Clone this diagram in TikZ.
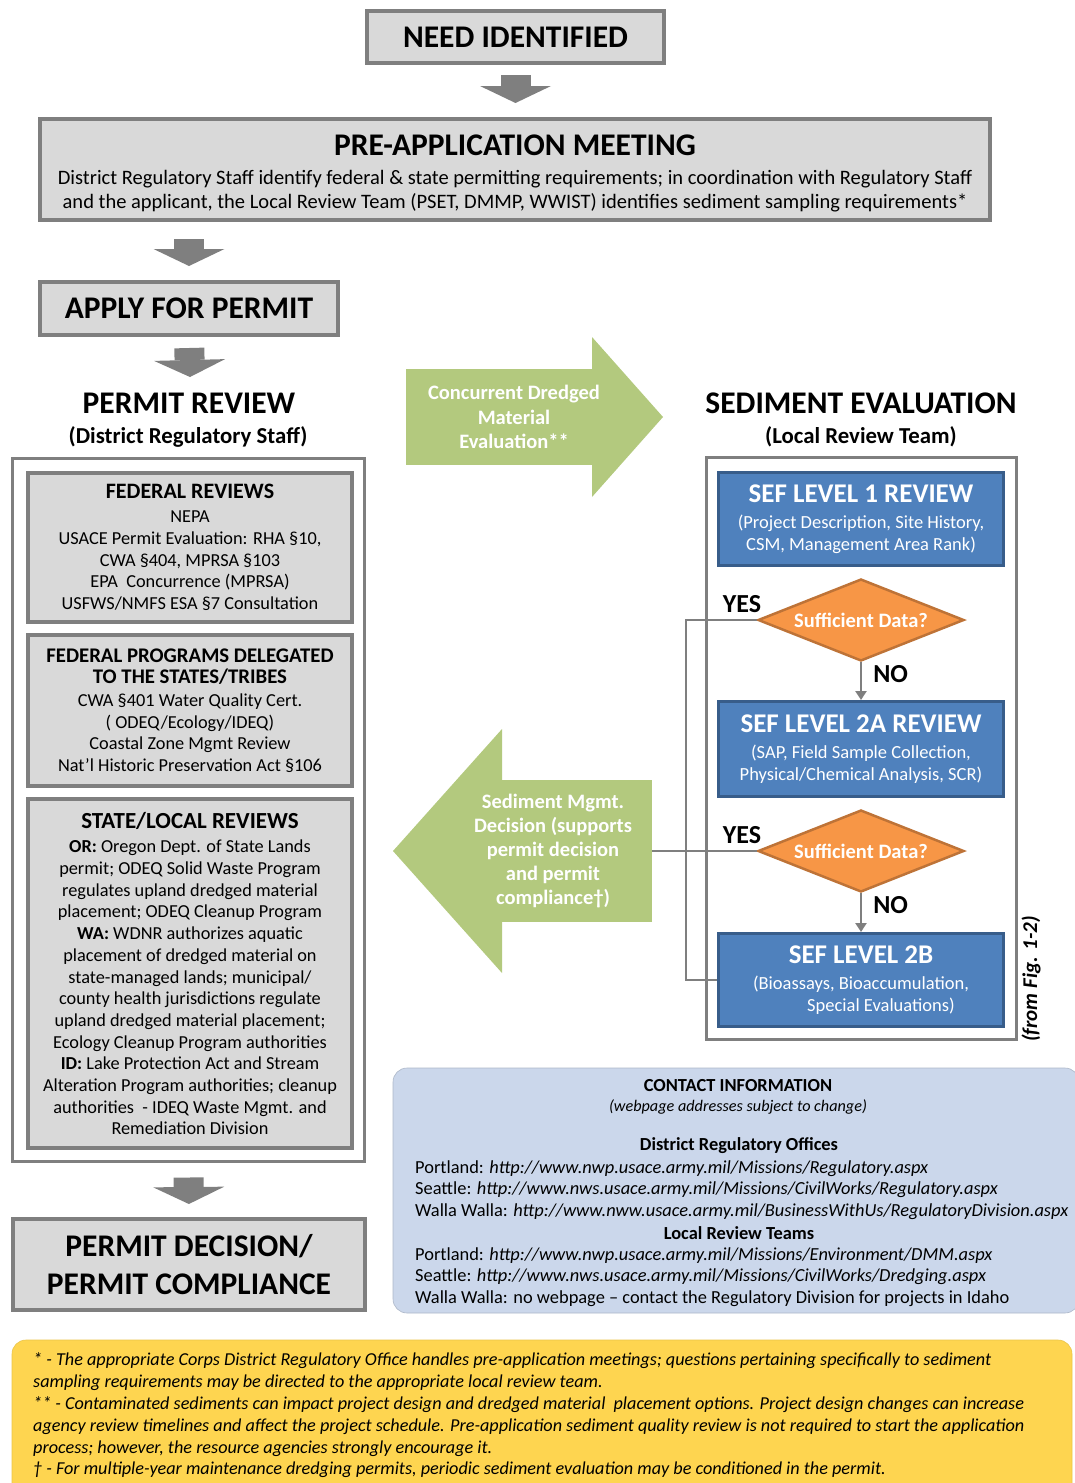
\documentclass[tikz,border=0pt]{standalone}
\usepackage{fontspec}
\setmainfont{Carlito}
\usetikzlibrary{arrows.meta,shapes.geometric,positioning}

\definecolor{boxgray}{RGB}{127,127,127}
\definecolor{boxfill}{RGB}{217,217,217}
\definecolor{sefblue}{RGB}{79,129,189}
\definecolor{sefedge}{RGB}{56,93,138}
\definecolor{decfill}{RGB}{247,150,70}
\definecolor{decedge}{RGB}{190,115,55}
\definecolor{evalgreen}{RGB}{179,201,126}
\definecolor{contactblue}{RGB}{203,215,235}
\definecolor{noteyellow}{RGB}{254,213,80}

\newcommand\fontBig{\fontsize{31.5}{38}\selectfont\bfseries}
\newcommand\fontSub{\fontsize{22.8}{24}\selectfont\bfseries}
\newcommand\fontProg{\fontsize{20.8}{24}\selectfont\bfseries}
\newcommand\fontBody{\fontsize{18.3}{21.7}\selectfont}
\newcommand\fontPre{\fontsize{20.5}{24}\selectfont}
\newcommand\fontSef{\fontsize{27}{30}\selectfont\bfseries}
\newcommand\fontSefSub{\fontsize{18.5}{22}\selectfont}
\newcommand\fontQuery{\fontsize{20.5}{22}\selectfont\bfseries}
\newcommand\fontYesNo{\fontsize{26}{28}\selectfont\bfseries}
\newcommand\fontGreen{\fontsize{20.5}{24.2}\selectfont\bfseries}
\newcommand\fontContact{\fontsize{18.4}{21.7}\selectfont}
\newcommand\fontNote{\fontsize{18.2}{21.8}\selectfont\itshape}

\begin{document}
\begin{tikzpicture}
         [x=1pt,y=-1pt,
          graybox/.style={draw=boxgray,fill=boxfill,line width=4pt,inner sep=0pt,align=center},
          frame/.style={draw=boxgray,line width=3pt,inner sep=0pt},
          sefbox/.style={draw=sefedge,fill=sefblue,line width=3pt,text=white,inner sep=0pt,
                         minimum width=285pt,align=center,font=\fontSefSub},
          query/.style={diamond,aspect=2.5,draw=decedge,fill=decfill,line width=2.5pt,text=white,
                        inner sep=0pt,minimum width=206pt,minimum height=82pt,font=\fontQuery},
          blockarrow/.style={draw=boxgray,line width=30pt,-{Triangle[width=71pt,length=17pt,line width=0pt]}},
          flow/.style={draw=boxgray,line width=2.5pt,-{Triangle[width=11pt,length=9pt]}},
          link/.style={draw=boxgray,line width=2.5pt},
          yesno/.style={font=\fontYesNo,inner sep=0pt},
          heading/.style={font=\fontBig,inner sep=0pt,align=center},
          greentext/.style={font=\fontGreen,text=white,inner sep=0pt,align=center}]
         \useasboundingbox (0,0) rectangle (1075,1483);

         \node[graybox,minimum width=297pt,minimum height=52pt,font=\fontBig] (need) at (515.5,37) {NEED IDENTIFIED};
         \node[graybox,minimum width=950pt,minimum height=101pt,font=\fontPre] (preapp) at (515,169.5)
              {{\fontBig\rule{0pt}{28pt}PRE-APPLICATION MEETING}\\[5pt]
               District Regulatory Staff identify federal \& state permitting requirements; in coordination with Regulatory Staff\\
               and the applicant, the Local Review Team (PSET, DMMP, WWIST) identifies sediment sampling requirements*};
         \node[graybox,minimum width=298pt,minimum height=53pt,font=\fontBig] (apply) at (189,308.5) {APPLY FOR PERMIT};

         \node[heading] (prtitle) at (189,403) {PERMIT REVIEW};
         \node[font=\fontSub,inner sep=0pt] (prsub) at (188,437) {(District Regulatory Staff)};
         \coordinate (prtop) at (190,377);

         \node[frame,minimum width=352pt,minimum height=703pt] (review) at (188.5,810) {};
         \node[graybox,minimum width=324pt,minimum height=149pt,font=\fontBody] (fedrev) at (190,547.5)
              {{\fontsize{22}{24}\selectfont\bfseries FEDERAL REVIEWS}\\[2pt]
               NEPA\\
               USACE Permit Evaluation: RHA §10,\\
               CWA §404, MPRSA §103\\
               EPA\ \ Concurrence (MPRSA)\\
               USFWS/NMFS ESA §7 Consultation};
         \node[graybox,minimum width=324pt,minimum height=151pt,font=\fontBody] (fedprog) at (190,710.5)
              {{\fontProg FEDERAL PROGRAMS DELEGATED}\\
               {\fontProg TO THE STATES/TRIBES}\\[1pt]
               CWA §401 Water Quality Cert.\\
               ( ODEQ/Ecology/IDEQ)\\
               Coastal Zone Mgmt Review\\
               Nat’l Historic Preservation Act §106};
         \node[graybox,minimum width=324pt,minimum height=349pt,font=\fontBody] (statelocal) at (190,973.5)
              {{\fontsize{23}{24}\selectfont\bfseries STATE/LOCAL REVIEWS}\\[3pt]
               \textbf{OR:} Oregon Dept. of State Lands\\
               permit; ODEQ Solid Waste Program\\
               regulates upland dredged material\\
               placement; ODEQ Cleanup Program\\
               \textbf{WA:} WDNR authorizes aquatic\\
               placement of dredged material on\\
               state-managed lands; municipal/\\
               county health jurisdictions regulate\\
               upland dredged material placement;\\
               Ecology Cleanup Program authorities\\
               \textbf{ID:} Lake Protection Act and Stream\\
               Alteration Program authorities; cleanup\\
               authorities\ \ - IDEQ Waste Mgmt. and\\
               Remediation Division};
         \node[graybox,minimum width=352pt,minimum height=91pt,font=\fontBig] (decision) at (189,1264.5)
              {PERMIT DECISION/\\PERMIT COMPLIANCE};

         \draw[blockarrow,shorten <=10pt,shorten >=14pt] (need.south) -- (need.south |- preapp.north);
         \draw[blockarrow,shorten <=17pt,shorten >=14pt] (apply.north |- preapp.south) -- (apply.north);
         \draw[blockarrow,shorten <=11pt] (apply.south) -- (prtop);
         \draw[blockarrow,shorten <=14.5pt,shorten >=13pt] (review.south) -- (decision.north);

         \node[heading] (setitle) at (861,403) {SEDIMENT EVALUATION};
         \node[font=\fontSub,inner sep=0pt] (sesub) at (861,437) {(Local Review Team)};
         \node[frame,minimum width=310pt,minimum height=582pt] (sedeval) at (861.5,748.5) {};
         \node[sefbox,minimum height=93pt] (sef1) at (861,519)
              {{\fontSef SEF LEVEL 1 REVIEW}\\[4pt]
               (Project Description, Site History,\\
               CSM, Management Area Rank)};
         \node[query] (dec1) at (861,620) {Sufficient Data?};
         \node[sefbox,minimum height=95pt] (sef2a) at (861,749)
              {{\fontSef SEF LEVEL 2A REVIEW}\\[4pt]
               (SAP, Field Sample Collection,\\
               Physical/Chemical Analysis, SCR)};
         \node[query] (dec2) at (861,851) {Sufficient Data?};
         \node[sefbox,minimum height=93pt] (sef2b) at (861,980)
              {{\fontSef SEF LEVEL 2B}\\[4pt]
               (Bioassays, Bioaccumulation,\\
               \hspace*{40pt}Special Evaluations)};
         \node[yesno] (yes1) at (742,604) {YES};
         \node[yesno] (yes2) at (742,835) {YES};
         \node[font=\fontsize{21}{24}\selectfont\bfseries\itshape,rotate=90,inner sep=0pt] (fromfig) at (1031,979) {(from Fig. 1-2)};

         \draw[flow] (dec1.south) -- node[yesno,right=11pt,pos=0.3] (no1) {NO} (sef2a.north);
         \draw[flow] (dec2.south) -- node[yesno,right=11pt,pos=0.3] (no2) {NO} (sef2b.north);

         \coordinate (cdetail) at (406,417);
         \coordinate (cdetip) at (663,417);
         \draw[draw=evalgreen,line width=96pt,-{Triangle[width=160pt,length=71pt,line width=0pt]}] (cdetail) -- (cdetip);
         \node[greentext] (cde) at (514,417) {Concurrent Dredged\\Material\\Evaluation**};

         \coordinate (smdtail) at (652,851);
         \coordinate (smdtip) at (393,851);
         \draw[draw=evalgreen,line width=142pt,-{Triangle[width=244pt,length=109pt,line width=0pt]}] (smdtail) -- (smdtip);
         \node[greentext] (smd) at (553,851) {Sediment Mgmt.\\Decision (supports\\permit decision\\and permit\\compliance\textdagger)};

         \coordinate (bend) at (686,851);
         \draw[link] (dec1.west) -| (bend) |- (sef2b.west);
         \draw[link] (dec2.west) -- (smdtail);

         \node[fill=contactblue,draw=contactblue!85!black,line width=0.6pt,rounded corners=14pt,
               minimum width=686pt,minimum height=245pt,inner sep=0pt] (contact) at (736,1190.5) {};
         \node[font=\fontContact\bfseries,inner sep=0pt] (ctitle) at (738,1086) {CONTACT INFORMATION};
         \node[font=\fontsize{16.2}{18}\selectfont\itshape,inner sep=0pt] (cnote) at (738,1107) {(webpage addresses subject to change)};
         \node[font=\fontContact\bfseries,inner sep=0pt] (cdist) at (739,1146) {District Regulatory Offices};
         \node[font=\fontContact,inner sep=0pt,align=left,anchor=west] (clist1) at (415,1190)
              {Portland: \textit{http://www.nwp.usace.army.mil/Missions/Regulatory.aspx}\\
               Seattle: \textit{http://www.nws.usace.army.mil/Missions/CivilWorks/Regulatory.aspx}\\
               Walla Walla: \textit{http://www.nww.usace.army.mil/BusinessWithUs/RegulatoryDivision.aspx}};
         \node[font=\fontContact\bfseries,inner sep=0pt] (clocal) at (739,1233) {Local Review Teams};
         \node[font=\fontContact,inner sep=0pt,align=left,anchor=west] (clist2) at (415,1277)
              {Portland: \textit{http://www.nwp.usace.army.mil/Missions/Environment/DMM.aspx}\\
               Seattle: \textit{http://www.nws.usace.army.mil/Missions/CivilWorks/Dredging.aspx}\\
               Walla Walla: no webpage -- contact the Regulatory Division for projects in Idaho};

         \node[fill=noteyellow,draw=noteyellow!92!black,line width=0.6pt,rounded corners=14pt,
               minimum width=1060pt,minimum height=170pt,inner sep=0pt] (notes) at (542,1425) {};
         \node[font=\fontNote,inner sep=0pt,align=left,anchor=west] (notetext) at (33,1415.5)
              {* - The appropriate Corps District Regulatory Office handles pre-application meetings; questions pertaining specifically to sediment\\
               sampling requirements may be directed to the appropriate local review team.\\
               ** - Contaminated sediments can impact project design and dredged material\ \ placement options. Project design changes can increase\\
               agency review timelines and affect the project schedule. Pre-application sediment quality review is not required to start the application\\
               process; however, the resource agencies strongly encourage it.\\
               \textdagger\ - For multiple-year maintenance dredging permits, periodic sediment evaluation may be conditioned in the permit.};
      \end{tikzpicture}
\end{document}
